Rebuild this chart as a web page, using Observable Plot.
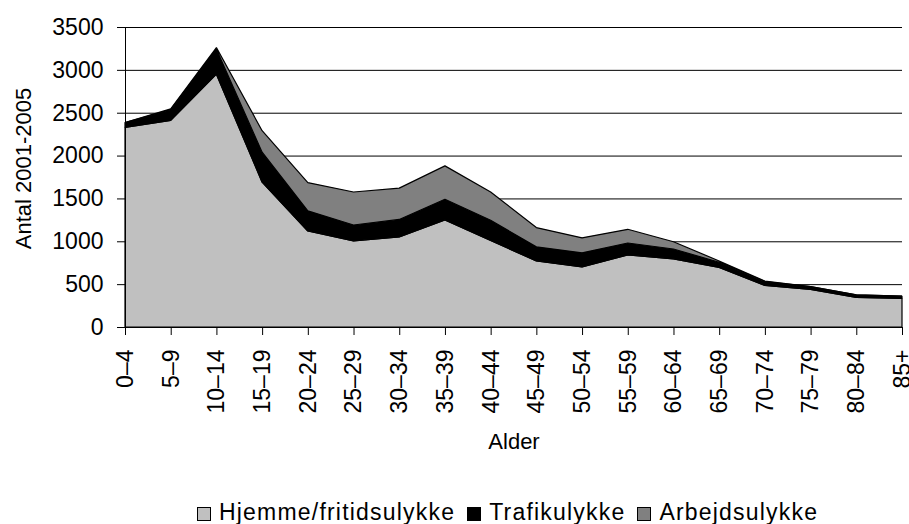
<!DOCTYPE html>
<html><head><meta charset="utf-8">
<script src="https://cdn.jsdelivr.net/npm/d3@7"></script>
<script src="https://cdn.jsdelivr.net/npm/@observablehq/plot@0.6"></script>
<style>
body{margin:0;background:#fff;font-family:"Liberation Sans",Arial,sans-serif;}
#wrap{position:relative;width:909px;height:524px;overflow:hidden}
#legend{position:absolute;top:499px;left:197px;font-size:23px;letter-spacing:1.2px;color:#000;white-space:nowrap;line-height:26px}
.item{margin-right:12px}
.sw{display:inline-block;width:12px;height:12px;border:1px solid #000;margin-right:8px;vertical-align:-1px}
</style></head><body><div id="wrap"><div id="chart"></div><div id="legend"></div></div>
<script>
const ages = ["0–4","5–9","10–14","15–19","20–24","25–29","30–34","35–39","40–44","45–49","50–54","55–59","60–64","65–69","70–74","75–79","80–84","85+"];
const hjemme = [2330, 2410, 2950, 1690, 1120, 1005, 1050, 1250, 1010, 770, 700, 840, 795, 695, 485, 440, 345, 335];
const trafik = [55, 125, 290, 350, 235, 185, 205, 240, 235, 165, 165, 140, 115, 60, 45, 30, 30, 25];
const arbejd = [0, 10, 20, 250, 330, 385, 365, 390, 330, 225, 175, 160, 85, 15, 5, 0, 0, 0];
const seriesNames = ["Hjemme/fritidsulykke", "Trafikulykke", "Arbejdsulykke"];
const seriesColors = ["#c0c0c0", "#000000", "#808080"];
const yTicks = [0, 500, 1000, 1500, 2000, 2500, 3000, 3500];
const xTitle = "Alder";
const yTitle = "Antal 2001-2005";

const seriesValues = [hjemme, trafik, arbejd];
const data = [];
seriesNames.forEach((name, s) => {
  ages.forEach((a, i) => data.push({age: a, type: name, value: seriesValues[s][i]}));
});

const chart = Plot.plot({
  width: 909,
  height: 480,
  marginLeft: 125,
  marginRight: 7,
  marginTop: 27,
  marginBottom: 153,
  style: {fontFamily: '"Liberation Sans", Arial, sans-serif', fontSize: "23px", color: "#000", background: "#fff"},
  x: {type: "point", domain: ages, padding: 0, round: false},
  y: {domain: [0, 3500]},
  color: {domain: seriesNames, range: seriesColors},
  marks: [
    Plot.gridY(yTicks, {stroke: "#000", strokeOpacity: 1, strokeWidth: 1}),
    Plot.areaY(data, {x: "age", y: "value", z: "type", fill: "type", stroke: "#000", strokeWidth: 1.2, strokeLinejoin: "miter"}),
    Plot.ruleX([ages[0]], {stroke: "#000", strokeWidth: 1}),
    Plot.ruleY([0], {stroke: "#000", strokeWidth: 1}),
    Plot.axisY(yTicks, {tickSize: 8, tickPadding: 14, tickFormat: d => String(d), label: null, fontSize: 23}),
    Plot.axisX({tickRotate: -90, tickSize: 8, tickPadding: 14, label: null, fontSize: 23}),
    Plot.text([yTitle], {frameAnchor: "left", rotate: -90, dx: -102, dy: -9, lineAnchor: "middle", textAnchor: "middle", fontSize: 22}),
    Plot.text([xTitle], {frameAnchor: "bottom", dy: 114, lineAnchor: "middle", textAnchor: "middle", fontSize: 22})
  ]
});
document.getElementById("chart").appendChild(chart);

const legend = document.getElementById("legend");
seriesNames.forEach((name, i) => {
  const item = document.createElement("span");
  item.className = "item";
  const sw = document.createElement("span");
  sw.className = "sw";
  sw.style.background = seriesColors[i];
  item.appendChild(sw);
  item.appendChild(document.createTextNode(name));
  legend.appendChild(item);
});
</script>
</body></html>
